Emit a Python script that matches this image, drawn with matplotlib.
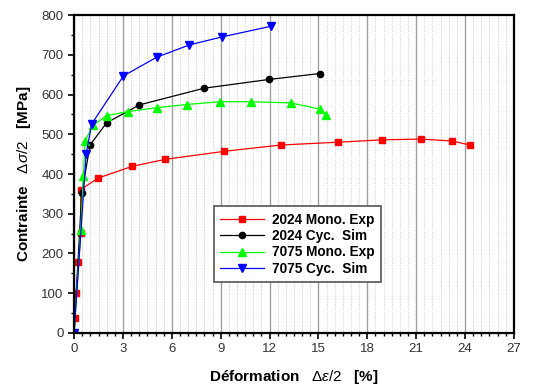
import numpy as np
import matplotlib.pyplot as plt
from matplotlib.ticker import MultipleLocator

plt.rcParams['font.family'] = ['Liberation Sans', 'DejaVu Sans']
plt.rcParams['mathtext.fontset'] = 'custom'
plt.rcParams['mathtext.rm'] = 'Liberation Sans'
plt.rcParams['mathtext.it'] = 'Liberation Sans:italic'

# 2024 Mono. Exp
x_2024_mono = [0, 0.04, 0.12, 0.27, 0.41, 0.41, 1.49, 3.54, 5.6, 9.2, 12.68, 16.18, 18.9, 21.33, 23.23, 24.3]
y_2024_mono = [0, 37, 100, 178, 252, 361, 390, 419, 437, 457, 473, 480, 486, 488, 483, 473]

# 2024 Cyc. Sim
x_2024_cyc = [0, 0.47, 0.98, 2.0, 4.01, 7.98, 11.96, 15.09]
y_2024_cyc = [0, 351, 473, 529, 574, 616, 638, 653]

# 7075 Mono. Exp
x_7075_mono = [0.0, 0.41, 0.57, 0.67, 1.18, 2.0, 3.29, 5.07, 6.91, 8.96, 10.84, 13.31, 15.13, 15.46]
y_7075_mono = [1, 259, 395, 484, 523, 547, 557, 567, 575, 582, 582, 579, 563, 548]

# 7075 Cyc. Sim
x_7075_cyc = [0, 0.74, 1.08, 3.03, 5.07, 7.08, 9.06, 12.09]
y_7075_cyc = [0, 450, 526, 647, 694, 725, 745, 772]

fig = plt.figure(figsize=(5.33, 3.88), dpi=100)
ax = fig.add_axes([0.139, 0.142, 0.825, 0.819])

ax.plot(x_2024_mono, y_2024_mono, '-s', color='#ff0000', lw=0.9, ms=4.5, label='2024 Mono. Exp')
ax.plot(x_2024_cyc, y_2024_cyc, '-o', color='black', lw=0.9, ms=4.5, label='2024 Cyc.  Sim')
ax.plot(x_7075_mono, y_7075_mono, '-^', color='#00ff00', lw=0.9, ms=6, label='7075 Mono. Exp')
ax.plot(x_7075_cyc, y_7075_cyc, '-v', color='#0000ff', lw=0.9, ms=6, label='7075 Cyc.  Sim')

ax.set_xlim(0, 27)
ax.set_ylim(0, 800)
ax.xaxis.set_major_locator(MultipleLocator(3))
ax.xaxis.set_minor_locator(MultipleLocator(0.5))
ax.yaxis.set_major_locator(MultipleLocator(100))
ax.yaxis.set_minor_locator(MultipleLocator(50))

# grille verticale seulement
ax.grid(True, axis='x', which='major', color='#a0a0a0', lw=1)
ax.grid(True, axis='x', which='minor', color='#c8c8c8', lw=0.7, ls=':')
ax.set_axisbelow(True)

ax.tick_params(axis='both', which='major', direction='out', length=4, width=1.2,
               labelsize=9.5, labelcolor='#333333')
ax.tick_params(axis='both', which='minor', direction='out', length=2.5, width=1)
for s in ax.spines.values():
    s.set_linewidth(1.6)

ax.set_xlabel(r'Déformation   $\Delta\epsilon/2$   [%]', fontsize=11, fontweight='bold', labelpad=9)
ax.set_ylabel(r'Contrainte   $\Delta\sigma/2$   [MPa]', fontsize=11, fontweight='bold', labelpad=6)

leg = ax.legend(loc='lower left', bbox_to_anchor=(0.318, 0.160), borderaxespad=0,
                fancybox=False, framealpha=1, edgecolor='#555555',
                prop={'weight': 'bold', 'size': 9.8},
                handlelength=3.2, labelspacing=0.18, borderpad=0.45, handletextpad=0.6)
leg.get_frame().set_linewidth(1.2)

plt.savefig('out.png', dpi=100)
